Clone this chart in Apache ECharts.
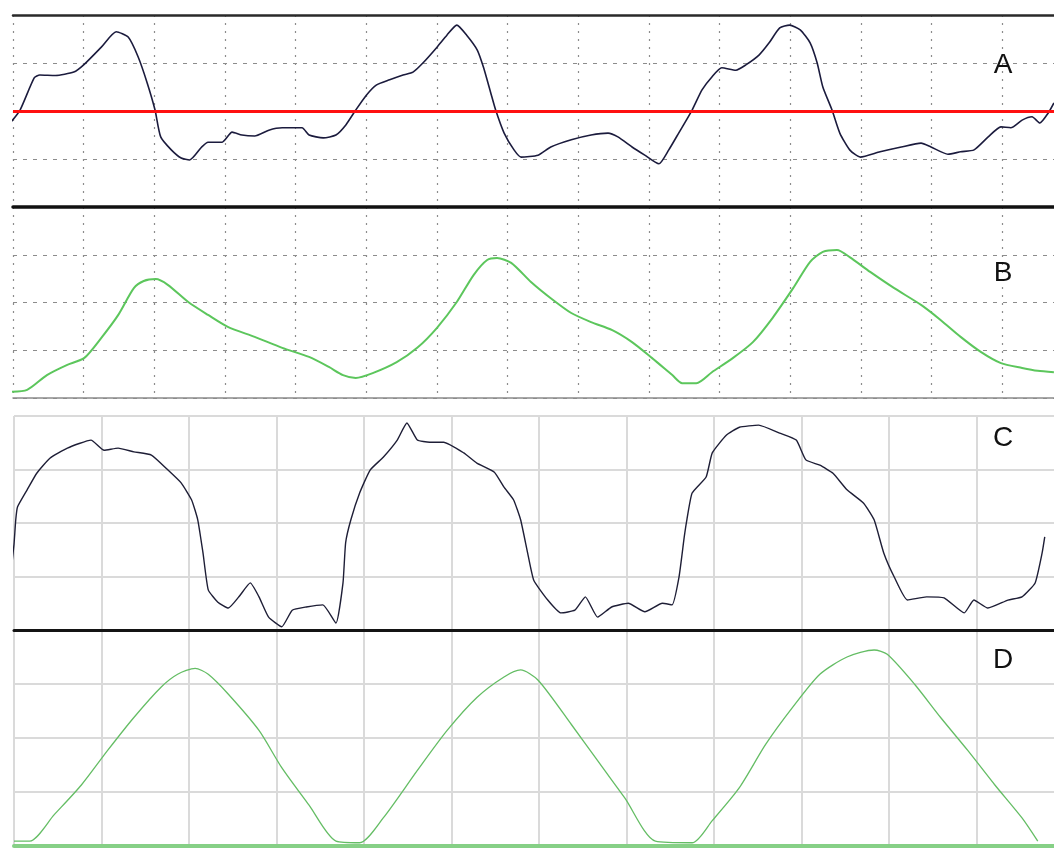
<!DOCTYPE html>
<html>
<head>
<meta charset="utf-8">
<title>Traces A–D</title>
<script src="https://cdn.jsdelivr.net/npm/echarts@6/dist/echarts.min.js"></script>
<style>
  html, body { margin: 0; padding: 0; background: #ffffff; }
  #chart { width: 1054px; height: 849px; }
</style>
</head>
<body>
<div id="chart"></div>
<script>
// Panel letters, top to bottom
const panelLabels = ['A', 'B', 'C', 'D'];

// Upper pair of panels: time in tenths of a division (15 divisions)
const upperTimeMax = 150;
const upperTimeStep = 10;
// Lower pair of panels: time in tenths of a division (12 divisions)
const lowerTimeMax = 120;
const lowerTimeStep = 10;
// Every panel is four vertical divisions tall
const levelMax = 4;
const levelStep = 1;
// Threshold drawn across panels A and C
const thresholdA = 2.0;
const thresholdC = 2.0;
const thresholdCEnd = 117.9;

// Trace A: [time, level]
const traceA = [
  [-0.4, 1.75], [1.0, 2.02], [3.0, 2.69], [3.8, 2.75], [6.0, 2.74], [8.6, 2.81], [10.0, 2.96],
  [12.5, 3.33], [14.6, 3.65], [16.3, 3.54], [17.7, 3.13], [19.0, 2.58], [20.1, 2.02],
  [20.9, 1.46], [22.4, 1.19], [23.8, 1.02], [25.0, 0.98], [26.7, 1.25], [27.6, 1.35],
  [29.6, 1.35], [31.0, 1.56], [32.4, 1.50], [34.2, 1.48], [36.2, 1.60], [38.1, 1.65],
  [40.9, 1.65], [41.9, 1.50], [43.9, 1.44], [45.7, 1.50], [47.1, 1.71], [48.5, 2.02],
  [50.0, 2.33], [51.4, 2.54], [53.3, 2.65], [55.2, 2.75], [56.6, 2.81], [58.0, 3.00],
  [60.0, 3.33], [61.4, 3.58], [62.8, 3.79], [64.2, 3.58], [65.7, 3.27], [66.6, 2.90],
  [67.6, 2.38], [68.3, 2.02], [69.5, 1.54], [70.9, 1.19], [71.9, 1.04], [74.3, 1.08],
  [76.1, 1.25], [79.0, 1.40], [81.8, 1.50], [84.2, 1.54], [85.6, 1.46], [87.6, 1.25],
  [89.4, 1.08], [91.4, 0.90], [92.8, 1.19], [94.2, 1.54], [96.1, 2.02], [97.5, 2.44],
  [98.9, 2.71], [100.3, 2.90], [102.3, 2.85], [103.7, 2.96], [105.6, 3.17], [107.0, 3.42],
  [108.5, 3.73], [109.9, 3.79], [111.4, 3.69], [112.8, 3.42], [113.8, 3.00], [114.6, 2.50],
  [115.9, 2.02], [117.0, 1.54], [118.4, 1.19], [119.9, 1.04], [122.7, 1.15], [125.7, 1.25],
  [128.5, 1.33], [129.9, 1.25], [132.3, 1.10], [134.1, 1.15], [136.0, 1.19], [138.0, 1.46],
  [139.8, 1.67], [141.2, 1.65], [142.8, 1.81], [144.2, 1.88], [145.3, 1.75], [146.5, 1.96],
  [147.3, 2.17]
];

// Trace B: [time, level]
const traceB = [
  [-0.4, 0.13], [2.0, 0.17], [4.8, 0.48], [7.6, 0.69], [10.1, 0.84], [12.5, 1.26],
  [14.9, 1.74], [17.1, 2.30], [18.5, 2.45], [20.2, 2.49], [21.9, 2.37], [24.8, 2.01],
  [27.6, 1.74], [30.4, 1.49], [34.2, 1.28], [38.1, 1.05], [41.9, 0.86], [44.7, 0.65],
  [46.7, 0.48], [48.5, 0.42], [50.9, 0.52], [54.3, 0.75], [57.2, 1.05], [60.0, 1.47],
  [62.8, 2.01], [65.2, 2.58], [67.1, 2.89], [68.5, 2.93], [70.5, 2.83], [73.3, 2.43],
  [76.1, 2.09], [79.0, 1.78], [81.8, 1.59], [84.8, 1.42], [87.6, 1.17], [90.4, 0.84],
  [93.3, 0.48], [94.7, 0.31], [96.7, 0.31], [98.9, 0.54], [101.9, 0.84], [104.7, 1.17],
  [107.5, 1.68], [110.4, 2.30], [112.8, 2.85], [114.6, 3.06], [116.6, 3.10], [118.4, 2.95],
  [121.3, 2.64], [124.7, 2.30], [128.5, 1.95], [131.3, 1.63], [134.1, 1.28], [137.0, 0.96],
  [139.8, 0.73], [142.8, 0.63], [145.0, 0.57], [147.3, 0.54]
];

// Trace C: [time, level]
const traceC = [
  [-0.4, 1.00], [0.0, 1.60], [0.2, 2.06], [0.4, 2.30], [1.5, 2.62], [2.6, 2.93], [4.1, 3.21],
  [6.1, 3.40], [8.8, 3.55], [10.3, 3.36], [11.9, 3.40], [13.7, 3.33], [15.7, 3.27],
  [17.6, 2.99], [19.1, 2.75], [20.3, 2.43], [21.0, 2.06], [21.6, 1.44], [22.2, 0.75],
  [23.3, 0.52], [24.5, 0.41], [25.7, 0.62], [27.0, 0.88], [28.0, 0.62], [29.1, 0.24],
  [30.6, 0.06], [31.8, 0.37], [33.4, 0.43], [35.3, 0.47], [36.8, 0.13], [37.6, 0.88],
  [37.9, 1.63], [38.5, 2.06], [39.5, 2.56], [40.7, 2.99], [42.2, 3.23], [43.8, 3.55],
  [44.9, 3.87], [46.1, 3.55], [47.5, 3.51], [49.1, 3.51], [51.4, 3.31], [52.9, 3.12],
  [54.9, 2.95], [56.0, 2.67], [57.1, 2.43], [57.9, 2.06], [58.7, 1.44], [59.4, 0.93],
  [61.0, 0.56], [62.5, 0.32], [64.1, 0.37], [65.3, 0.62], [66.7, 0.24], [68.3, 0.43],
  [70.2, 0.50], [72.1, 0.34], [74.1, 0.50], [75.2, 0.47], [76.0, 0.99], [76.6, 1.74],
  [76.9, 2.06], [77.5, 2.56], [79.1, 2.86], [79.8, 3.31], [81.4, 3.64], [82.9, 3.79],
  [85.1, 3.83], [87.5, 3.68], [89.4, 3.55], [90.5, 3.18], [92.1, 3.08], [93.6, 2.93],
  [95.2, 2.62], [97.1, 2.37], [98.3, 2.06], [99.4, 1.44], [100.6, 0.99], [102.1, 0.56],
  [104.3, 0.62], [106.3, 0.60], [108.6, 0.32], [109.7, 0.56], [111.3, 0.41], [113.6, 0.56],
  [115.2, 0.62], [116.7, 0.88], [117.5, 1.44], [117.8, 1.74]
];

// Trace D: [time, level]
const traceD = [
  [0.0, 0.09], [1.8, 0.09], [4.6, 0.58], [7.7, 1.13], [10.7, 1.77], [13.7, 2.38],
  [16.8, 2.94], [18.7, 3.18], [20.7, 3.29], [22.2, 3.18], [24.5, 2.81], [28.0, 2.14],
  [30.6, 1.45], [33.7, 0.76], [36.8, 0.09], [39.5, 0.06], [42.2, 0.52], [46.1, 1.40],
  [49.5, 2.14], [52.9, 2.75], [56.0, 3.13], [57.9, 3.26], [59.9, 3.07], [63.7, 2.25],
  [66.7, 1.58], [69.8, 0.89], [73.3, 0.09], [77.5, 0.06], [79.8, 0.47], [82.9, 1.08],
  [85.9, 1.88], [89.0, 2.57], [92.1, 3.18], [95.2, 3.50], [98.3, 3.63], [99.8, 3.55],
  [102.9, 3.00], [105.9, 2.38], [109.0, 1.77], [112.1, 1.13], [115.2, 0.52], [117.0, 0.09]
];

// ---- styling ----
const dottedGrid = { show: true, lineStyle: { color: '#8c8c8c', width: 1.2, type: [2, 6] } };
const dashedGrid = { show: true, lineStyle: { color: '#8c8c8c', width: 1.2, type: [4, 6] } };
const solidGrid = { show: true, lineStyle: { color: '#dadada', width: 2, type: 'solid' } };
const hidden = { show: false };

function timeAxis(gridIndex, max, step, split, lineStyle, position) {
  return {
    type: 'value', gridIndex, min: 0, max, interval: step,
    position: position || 'bottom',
    axisLine: lineStyle ? { show: true, onZero: false, lineStyle } : hidden,
    axisTick: hidden, axisLabel: hidden,
    splitLine: split || hidden
  };
}
function levelAxis(gridIndex, split) {
  return {
    type: 'value', gridIndex, min: 0, max: levelMax, interval: levelStep,
    axisLine: hidden, axisTick: hidden, axisLabel: hidden,
    splitLine: split
  };
}

// The panels run past the right edge of the canvas, so the grid must not be
// squeezed back inside the container.
function panel(left, top, width, height) {
  return { left, top, width, height, containLabel: false, outerBoundsMode: 'none' };
}

const chart = echarts.init(document.getElementById('chart'), null, { renderer: 'canvas' });

const option = {
  animation: false,
  backgroundColor: '#ffffff',
  grid: [
    panel(13, 15, 1060, 192),
    panel(13, 207, 1060, 191),
    panel(14, 416, 1050, 214),
    panel(14, 630, 1050, 216)
  ],
  xAxis: [
    timeAxis(0, upperTimeMax, upperTimeStep, dottedGrid, { color: '#111111', width: 3.5 }),
    timeAxis(1, upperTimeMax, upperTimeStep, dottedGrid, { color: '#8a8a8a', width: 1.5 }),
    timeAxis(2, lowerTimeMax, lowerTimeStep, solidGrid, { color: '#141414', width: 3 }),
    timeAxis(3, lowerTimeMax, lowerTimeStep, solidGrid, { color: '#86d086', width: 4 }),
    timeAxis(0, upperTimeMax, upperTimeStep, null, { color: '#2a2a2a', width: 2.5 }, 'top')
  ],
  yAxis: [
    levelAxis(0, dashedGrid),
    levelAxis(1, dashedGrid),
    levelAxis(2, solidGrid),
    levelAxis(3, solidGrid)
  ],
  series: [
    {
      name: panelLabels[0], type: 'line', xAxisIndex: 0, yAxisIndex: 0,
      data: traceA, showSymbol: false, smooth: 0.2, clip: false,
      lineStyle: { color: '#1b1b3d', width: 1.6 },
      markLine: {
        silent: true, symbol: 'none', label: { show: false },
        lineStyle: { color: '#ff1010', width: 3, type: 'solid' },
        data: [{ yAxis: thresholdA }]
      }
    },
    {
      name: panelLabels[1], type: 'line', xAxisIndex: 1, yAxisIndex: 1,
      data: traceB, showSymbol: false, smooth: 0.25, clip: false,
      lineStyle: { color: '#5cc65c', width: 2 }
    },
    {
      name: panelLabels[2], type: 'line', xAxisIndex: 2, yAxisIndex: 2,
      data: traceC, showSymbol: false, smooth: 0.15, clip: false,
      lineStyle: { color: '#1e1e36', width: 1.4 },
      markLine: {
        silent: true, symbol: 'none', label: { show: false },
        lineStyle: { color: '#ff1010', width: 3, type: 'solid' },
        data: [[{ coord: [-0.4, thresholdC] }, { coord: [thresholdCEnd, thresholdC] }]]
      }
    },
    {
      name: panelLabels[3], type: 'line', xAxisIndex: 3, yAxisIndex: 3,
      data: traceD, showSymbol: false, smooth: 0.25, clip: false,
      lineStyle: { color: '#64bd64', width: 1.3 }
    }
  ],
  graphic: [
    { x: 1003, y: 65 }, { x: 1003, y: 273 }, { x: 1003, y: 438 }, { x: 1003, y: 660 }
  ].map((p, i) => ({
    type: 'text', x: p.x, y: p.y, z: 10,
    style: {
      text: panelLabels[i], fill: '#111111',
      font: '28px "Liberation Sans", Arial, sans-serif',
      textAlign: 'center', textVerticalAlign: 'middle'
    }
  }))
};

chart.setOption(option);
</script>
</body>
</html>
